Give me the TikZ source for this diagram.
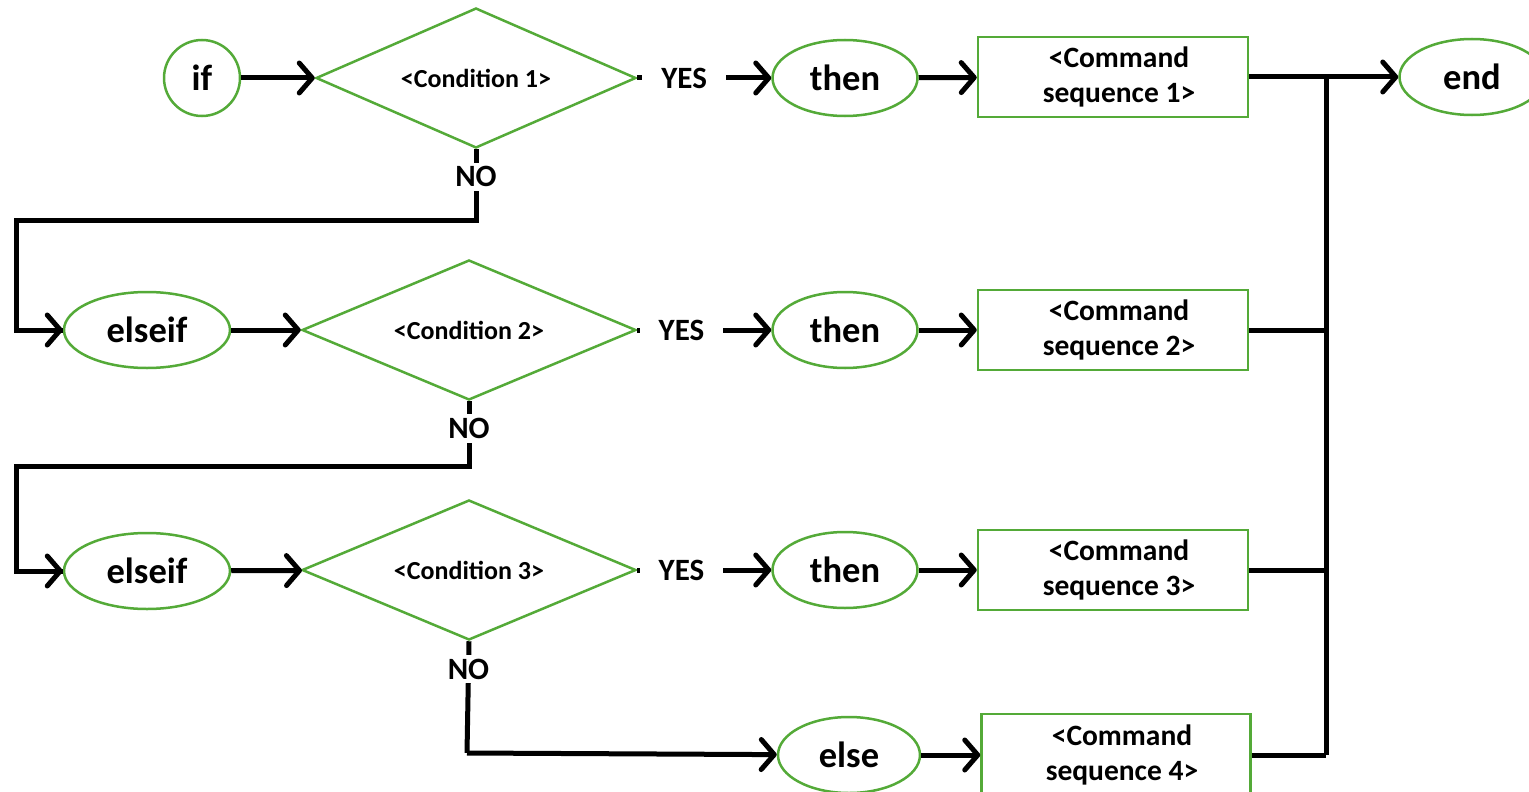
\documentclass[tikz,border=0pt]{standalone}
\usepackage{fontspec}
\setmainfont{Carlito}
\usetikzlibrary{shapes.geometric,arrows.meta}
\definecolor{gr}{RGB}{84,170,56}
\tikzset{
  box/.style={draw=gr,line width=2.5pt,fill=white,inner sep=0pt},
  oval/.style={box,ellipse,minimum width=145pt,minimum height=76pt,font=\fontsize{36.5}{42}\selectfont\bfseries},
  cond/.style={box,diamond,minimum width=334pt,minimum height=140pt,
    label={[font=\fontsize{26}{30}\selectfont\bfseries]center:#1}},
  cmd/.style={box,rectangle,minimum width=270pt,minimum height=80pt,align=center,font=\fontsize{29.5}{35}\selectfont\bfseries},
  conn/.style={line width=5pt,-{Straight Barb[length=13pt,width=30pt,round]}},
  line/.style={line width=5pt},
  lab/.style={fill=white,inner xsep=19pt,inner ysep=4pt,font=\fontsize{31}{34}\selectfont\bfseries},
  labv/.style={lab,inner xsep=4pt}
}
\begin{document}
\begin{tikzpicture}[x=1pt,y=-1pt]
\useasboundingbox (0,0) rectangle (1529,792);
% row 1
\node[box,circle,minimum size=76pt,font=\fontsize{36.5}{42}\selectfont\bfseries] (if) at (202,78) {if};
\node[cond={<Condition 1>},minimum width=320pt] (d1) at (476,78) {};
\node[oval] (t1) at (845,78) {then};
\node[cmd] (c1) at (1113,77) {\hspace*{12pt}<Command\\\hspace*{12pt}sequence 1>};
\node[oval] (end) at (1472,77) {end};
% row 2
\node[oval,minimum width=166pt] (e1) at (147,330) {elseif};
\node[cond={<Condition 2>}] (d2) at (469,330) {};
\node[oval] (t2) at (845,330) {then};
\node[cmd] (c2) at (1113,330) {\hspace*{12pt}<Command\\\hspace*{12pt}sequence 2>};
% row 3
\node[oval,minimum width=166pt] (e2) at (147,571) {elseif};
\node[cond={<Condition 3>}] (d3) at (469,570) {};
\node[oval] (t3) at (845,570) {then};
\node[cmd] (c3) at (1113,570) {\hspace*{12pt}<Command\\\hspace*{12pt}sequence 3>};
% row 4
\node[oval,minimum width=142pt] (el) at (849,755) {else};
\node[cmd,minimum width=269pt,minimum height=82pt] (c4) at (1116,755) {\hspace*{12pt}<Command\\\hspace*{12pt}sequence 4>};
% coordinates
\coordinate (n1) at (476,220);
\coordinate (l1) at (16,220);
\coordinate (n2) at (469,466);
\coordinate (l2) at (16,466);
\coordinate (n3) at (467,753);
\coordinate (bt) at (1326,77);
\coordinate (bb) at (1326,755);
% connectors
\draw[conn] (if) -- (d1);
\draw[conn] (d1.east) -- node[lab,pos=0.35]{YES} (t1);
\draw[conn] (t1) -- (c1);
\draw[conn] (c1) -- (end);
\draw[line] (d1.south) -- node[labv,pos=0.39]{NO} (n1) -- (l1) |- (e1.west);
\draw[conn] (l1 |- e1) -- (e1);
\draw[conn] (e1) -- (d2);
\draw[conn] (d2.east) -- node[lab,pos=0.33]{YES} (t2);
\draw[conn] (t2) -- (c2);
\draw[line] (d2.south) -- node[labv,pos=0.42]{NO} (n2) -- (l2) |- (e2.west);
\draw[conn] (l2 |- e2) -- (e2);
\draw[conn] (e2) -- (d3);
\draw[conn] (d3.east) -- node[lab,pos=0.33]{YES} (t3);
\draw[conn] (t3) -- (c3);
\draw[line] (d3.south) -- node[labv,pos=0.25]{NO} (n3);
\draw[conn] (n3) -- (el);
\draw[conn] (el) -- (c4);
\draw[line] (bt) -- (bb);
\draw[line] (c2.east) -- (c2.east -| bt);
\draw[line] (c3.east) -- (c3.east -| bt);
\draw[line] (c4.east) -- (c4.east -| bt);
\end{tikzpicture}
\end{document}
